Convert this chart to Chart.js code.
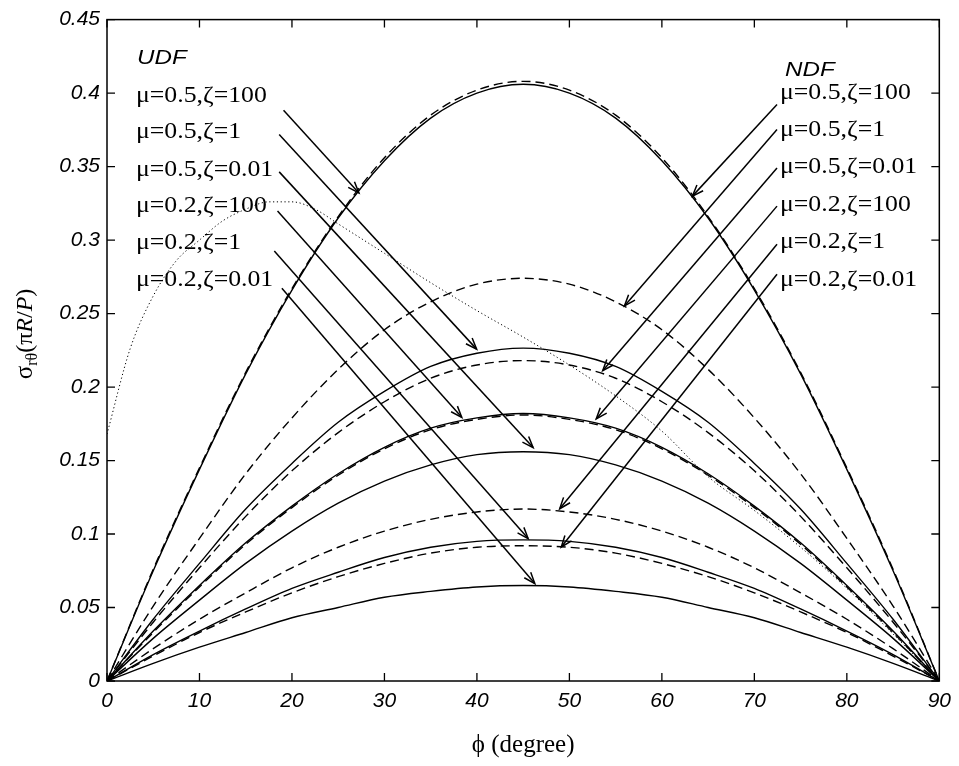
<!DOCTYPE html>
<html>
<head>
<meta charset="utf-8">
<script src="https://cdn.jsdelivr.net/npm/chart.js@4.4.1/dist/chart.umd.min.js"></script>
<style>
  html, body { margin: 0; padding: 0; background: #fff; }
  canvas { display: block; }
</style>
</head>
<body>
<canvas id="c" width="959" height="766"></canvas>
<script>
// Angle phi (degree) sampled along each stress curve
const phi = [0, 5, 10, 15, 20, 25, 30, 35, 40, 45, 50, 55, 60, 65, 70, 75, 80, 85, 90];

// UDF curves (solid lines)
const udfMu05Z100  = [0, 0.075, 0.144, 0.209, 0.266, 0.315, 0.354, 0.383, 0.400, 0.406, 0.400, 0.383, 0.354, 0.315, 0.266, 0.209, 0.144, 0.075, 0];
const udfMu05Z1    = [0, 0.042, 0.080, 0.117, 0.148, 0.176, 0.197, 0.214, 0.223, 0.2265, 0.223, 0.214, 0.197, 0.176, 0.148, 0.117, 0.080, 0.042, 0];
const udfMu05Z001  = [0, 0.029, 0.055, 0.080, 0.102, 0.121, 0.136, 0.147, 0.154, 0.156, 0.154, 0.147, 0.136, 0.121, 0.102, 0.080, 0.055, 0.029, 0];
const udfMu02Z100  = [0, 0.034, 0.065, 0.094, 0.119, 0.141, 0.159, 0.172, 0.179, 0.182, 0.179, 0.172, 0.159, 0.141, 0.119, 0.094, 0.065, 0.034, 0];
const udfMu02Z1    = [0, 0.018, 0.034, 0.049, 0.063, 0.074, 0.084, 0.091, 0.095, 0.096, 0.095, 0.091, 0.084, 0.074, 0.063, 0.049, 0.034, 0.018, 0];
const udfMu02Z001  = [0, 0.012, 0.023, 0.033, 0.043, 0.050, 0.057, 0.061, 0.064, 0.065, 0.064, 0.061, 0.057, 0.050, 0.043, 0.033, 0.023, 0.012, 0];

// NDF curves (dashed lines)
const ndfMu05Z100  = [0, 0.076, 0.145, 0.210, 0.267, 0.316, 0.356, 0.385, 0.402, 0.408, 0.402, 0.385, 0.356, 0.316, 0.267, 0.210, 0.145, 0.076, 0];
const ndfMu05Z1    = [0, 0.051, 0.097, 0.141, 0.179, 0.212, 0.239, 0.258, 0.270, 0.274, 0.270, 0.258, 0.239, 0.212, 0.179, 0.141, 0.097, 0.051, 0];
const ndfMu05Z001  = [0, 0.040, 0.077, 0.112, 0.143, 0.169, 0.190, 0.206, 0.215, 0.218, 0.215, 0.206, 0.190, 0.169, 0.143, 0.112, 0.077, 0.040, 0];
const ndfMu02Z100  = [0, 0.033, 0.064, 0.093, 0.118, 0.140, 0.158, 0.171, 0.178, 0.181, 0.178, 0.171, 0.158, 0.140, 0.118, 0.093, 0.064, 0.033, 0];
const ndfMu02Z1    = [0, 0.022, 0.042, 0.060, 0.077, 0.091, 0.102, 0.110, 0.115, 0.117, 0.115, 0.110, 0.102, 0.091, 0.077, 0.060, 0.042, 0.022, 0];
const ndfMu02Z001  = [0, 0.017, 0.033, 0.047, 0.060, 0.071, 0.080, 0.087, 0.091, 0.092, 0.091, 0.087, 0.080, 0.071, 0.060, 0.047, 0.033, 0.017, 0];

// Unlabelled dotted reference curve
const phiRef   = [0, 2.5, 5, 7.5, 10, 12.5, 15, 17.5, 20, 22.5, 25, 30, 35, 40, 45, 50, 55, 60, 65, 70, 75, 80, 85, 90];
const refCurve = [0.168, 0.226, 0.262, 0.286, 0.300, 0.313, 0.321, 0.326, 0.326, 0.321, 0.311, 0.291, 0.271, 0.252, 0.234, 0.215, 0.194, 0.170, 0.139, 0.116, 0.091, 0.063, 0.032, 0];

// Tick labels
const xTickLabels = ['0', '10', '20', '30', '40', '50', '60', '70', '80', '90'];
const yTickLabels = ['0', '0.05', '0.1', '0.15', '0.2', '0.25', '0.3', '0.35', '0.4', '0.45'];

// Legend texts
const curveLabels = ['\u03bc=0.5,\u03b6=100', '\u03bc=0.5,\u03b6=1', '\u03bc=0.5,\u03b6=0.01',
                     '\u03bc=0.2,\u03b6=100', '\u03bc=0.2,\u03b6=1', '\u03bc=0.2,\u03b6=0.01'];

// Arrow annotations in data units: [phiFrom, sigmaFrom, phiTo, sigmaTo]
const udfArrows = [
  [19.09, 0.3883, 27.24, 0.3321],
  [18.62, 0.3718, 39.97, 0.2258],
  [18.62, 0.3464, 46.08, 0.1588],
  [18.44, 0.3197, 38.36, 0.1794],
  [18.09, 0.2925, 45.54, 0.0969],
  [18.91, 0.2672, 46.26, 0.0663]
];
const ndfArrows = [
  [72.45, 0.3922, 63.30, 0.3299],
  [72.45, 0.3752, 55.95, 0.2552],
  [72.45, 0.3491, 53.60, 0.2111],
  [72.45, 0.3231, 52.90, 0.1783],
  [72.45, 0.2971, 48.95, 0.1172],
  [72.45, 0.2767, 49.12, 0.0912]
];

const pts = (xs, ys) => xs.map((x, i) => ({ x: x, y: ys[i] }));

const solid = (d) => ({ data: pts(phi, d), borderColor: '#000', borderWidth: 1.4, pointRadius: 0, fill: false, cubicInterpolationMode: 'monotone' });
const dashed = (d) => ({ data: pts(phi, d), borderColor: '#000', borderWidth: 1.4, borderDash: [9, 5], pointRadius: 0, fill: false, cubicInterpolationMode: 'monotone' });

const datasets = [
  solid(udfMu05Z100), solid(udfMu05Z1), solid(udfMu05Z001),
  solid(udfMu02Z100), solid(udfMu02Z1), solid(udfMu02Z001),
  dashed(ndfMu05Z100), dashed(ndfMu05Z1), dashed(ndfMu05Z001),
  dashed(ndfMu02Z100), dashed(ndfMu02Z1), dashed(ndfMu02Z001),
  { data: pts(phiRef, refCurve), borderColor: '#000', borderWidth: 1, borderDash: [1.2, 2.6], pointRadius: 0, fill: false, cubicInterpolationMode: 'monotone' }
];

function stretchedText(ctx, str, x, y, sx) {
  ctx.save();
  ctx.translate(x, y);
  ctx.scale(sx, 1);
  ctx.fillText(str, 0, 0);
  ctx.restore();
}

function drawArrow(ctx, x1, y1, x2, y2) {
  ctx.beginPath();
  ctx.moveTo(x1, y1);
  ctx.lineTo(x2, y2);
  ctx.stroke();
  const a = Math.atan2(y2 - y1, x2 - x1);
  const L = 12, w = 0.36;
  ctx.beginPath();
  ctx.moveTo(x2 - L * Math.cos(a - w), y2 - L * Math.sin(a - w));
  ctx.lineTo(x2, y2);
  ctx.lineTo(x2 - L * Math.cos(a + w), y2 - L * Math.sin(a + w));
  ctx.stroke();
}

const decorations = {
  id: 'decorations',
  afterDatasetsDraw(chart) {
    const ctx = chart.ctx;
    const xs = chart.scales.x, ys = chart.scales.y;
    const ca = chart.chartArea;
    ctx.save();
    ctx.strokeStyle = '#000';
    ctx.fillStyle = '#000';
    ctx.setLineDash([]);

    // box
    ctx.lineWidth = 1.5;
    ctx.strokeRect(ca.left, ca.top, ca.right - ca.left, ca.bottom - ca.top);

    // inward ticks on all four sides
    const T = 8;
    ctx.lineWidth = 1.3;
    ctx.beginPath();
    xs.ticks.forEach(t => {
      const px = xs.getPixelForValue(t.value);
      ctx.moveTo(px, ca.bottom); ctx.lineTo(px, ca.bottom - T);
      ctx.moveTo(px, ca.top); ctx.lineTo(px, ca.top + T);
    });
    ys.ticks.forEach(t => {
      const py = ys.getPixelForValue(t.value);
      ctx.moveTo(ca.left, py); ctx.lineTo(ca.left + T, py);
      ctx.moveTo(ca.right, py); ctx.lineTo(ca.right - T, py);
    });
    ctx.stroke();

    // arrows
    ctx.lineWidth = 1.5;
    udfArrows.concat(ndfArrows).forEach(a => {
      drawArrow(ctx, xs.getPixelForValue(a[0]), ys.getPixelForValue(a[1]),
                     xs.getPixelForValue(a[2]), ys.getPixelForValue(a[3]));
    });

    // group headings
    ctx.textBaseline = 'alphabetic';
    ctx.textAlign = 'left';
    ctx.font = 'italic 21px "Liberation Sans", Arial, sans-serif';
    stretchedText(ctx, 'UDF', 137, 64, 1.15);
    stretchedText(ctx, 'NDF', 785, 76, 1.15);

    // curve labels
    ctx.font = '23px "Liberation Serif", "Times New Roman", serif';
    const leftBase = [101.7, 138.3, 175.7, 212.3, 249.3, 286];
    const rightBase = [99, 135.5, 173, 210.5, 248, 285.5];
    curveLabels.forEach((s, i) => {
      stretchedText(ctx, s, 136, leftBase[i], 1.12);
      stretchedText(ctx, s, 780, rightBase[i], 1.12);
    });

    // x axis title
    ctx.font = '25px "Liberation Serif", "Times New Roman", serif';
    ctx.textAlign = 'center';
    ctx.fillText('\u03d5 (degree)', (ca.left + ca.right) / 2, 752);

    // y axis title, rotated
    ctx.save();
    ctx.translate(32, 334);
    ctx.rotate(-Math.PI / 2);
    ctx.textAlign = 'left';
    const pieces = [
      { t: '\u03c3', f: '25px "Liberation Serif", serif', dy: 0 },
      { t: 'r\u03b8', f: '16px "Liberation Serif", serif', dy: 5 },
      { t: '(\u03c0', f: '24px "Liberation Serif", serif', dy: 0 },
      { t: 'R', f: 'italic 24px "Liberation Serif", serif', dy: 0 },
      { t: '/', f: '24px "Liberation Serif", serif', dy: 0 },
      { t: 'P', f: 'italic 24px "Liberation Serif", serif', dy: 0 },
      { t: ')', f: '24px "Liberation Serif", serif', dy: 0 }
    ];
    let total = 0;
    pieces.forEach(p => { ctx.font = p.f; p.w = ctx.measureText(p.t).width; total += p.w; });
    let cx = -total / 2;
    pieces.forEach(p => { ctx.font = p.f; ctx.fillText(p.t, cx, p.dy); cx += p.w; });
    ctx.restore();

    ctx.restore();
  }
};

const tickFont = { family: '"Liberation Sans", Arial, sans-serif', size: 21, style: 'italic' };

new Chart(document.getElementById('c'), {
  type: 'line',
  data: { datasets: datasets },
  options: {
    responsive: false,
    devicePixelRatio: 1,
    animation: false,
    events: [],
    layout: { padding: { top: 18, right: 16, left: 0, bottom: 0 } },
    plugins: { legend: { display: false }, tooltip: { enabled: false } },
    scales: {
      x: {
        type: 'linear', min: 0, max: 90,
        grid: { display: false, drawTicks: false },
        border: { display: false },
        ticks: { stepSize: 10, color: '#000', font: tickFont, padding: 8, maxRotation: 0,
                 callback: (v, i) => xTickLabels[i] },
        afterFit: (s) => { s.height = 85; }
      },
      y: {
        type: 'linear', min: 0, max: 0.45,
        grid: { display: false, drawTicks: false },
        border: { display: false },
        ticks: { stepSize: 0.05, color: '#000', font: tickFont, padding: 7,
                 callback: (v, i) => yTickLabels[i] },
        afterFit: (s) => { s.width = 107; }
      }
    }
  },
  plugins: [decorations]
});
</script>
</body>
</html>
